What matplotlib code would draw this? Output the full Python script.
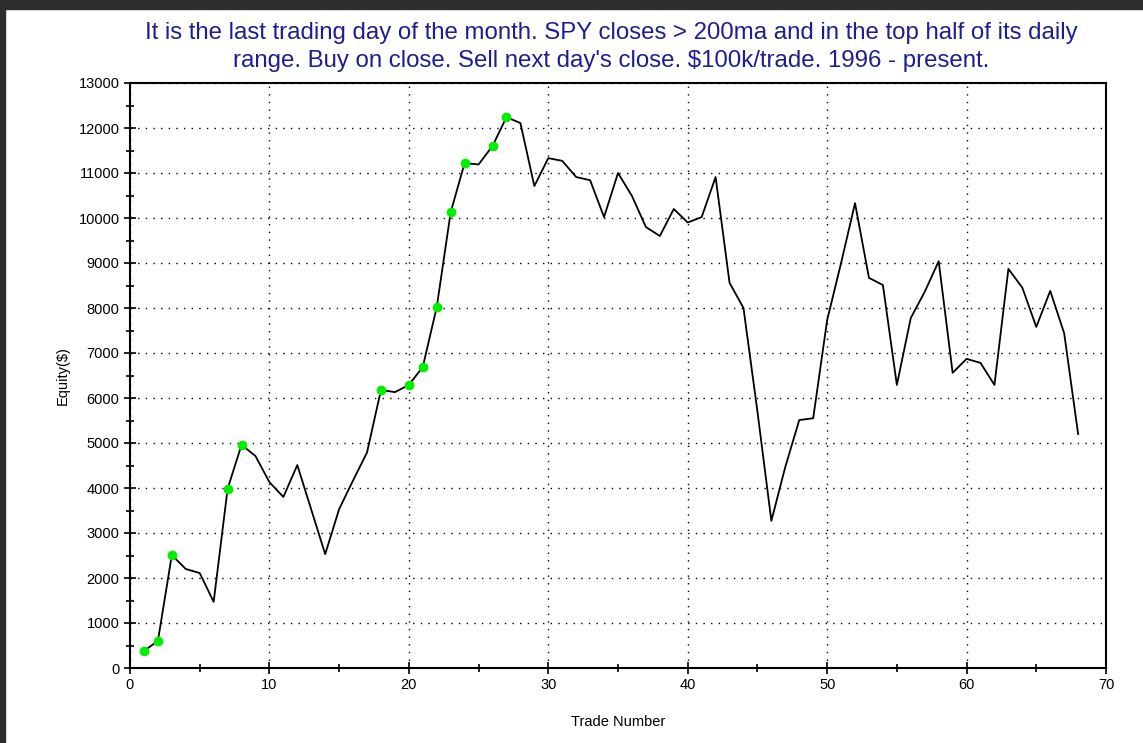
import numpy as np
import matplotlib.pyplot as plt
from matplotlib.ticker import MultipleLocator
from matplotlib.patches import Rectangle

# equity curve (trade 1..68)
trades = list(range(1, 69))
equity = [380, 600, 2510, 2200, 2110, 1470, 3980, 4960, 4710, 4130,
          3800, 4510, 3520, 2530, 3530, 4170, 4790, 6180, 6130, 6290,
          6690, 8020, 10130, 11220, 11190, 11600, 12240, 12110, 10710, 11330,
          11270, 10910, 10840, 10020, 11000, 10490, 9800, 9600, 10200, 9900,
          10020, 10910, 8560, 8000, 5700, 3270, 4470, 5510, 5550, 7730,
          9000, 10330, 8670, 8510, 6290, 7780, 8360, 9040, 6560, 6870,
          6780, 6290, 8870, 8450, 7580, 8380, 7440, 5200]
# trades that made a new equity high (green dots)
high_trades = [1, 2, 3, 7, 8, 18, 20, 21, 22, 23, 24, 26, 27]

title = ("It is the last trading day of the month. SPY closes > 200ma and in the top half of its daily\n"
         "range. Buy on close. Sell next day's close. $100k/trade. 1996 - present.")

plt.rcParams['font.family'] = ['Liberation Sans', 'DejaVu Sans']

fig = plt.figure(figsize=(11.43, 7.43), dpi=100)
fig.patch.set_facecolor('white')
# dark window border on top and left
fig.add_artist(Rectangle((0, 1 - 9 / 743), 1, 9 / 743, transform=fig.transFigure,
                         color='#2e2e2e', zorder=10))
fig.add_artist(Rectangle((0, 0), 5 / 1143, 1, transform=fig.transFigure,
                         color='#2e2e2e', zorder=10))

ax = fig.add_axes([130 / 1143, 1 - 668 / 743, (1106 - 130) / 1143, (668 - 83) / 743])

ax.plot(trades, equity, color='black', lw=1.3, zorder=3)
hx = [t for t in high_trades]
hy = [equity[t - 1] for t in high_trades]
ax.plot(hx, hy, 'o', color='#00ee00', ms=6, mec='#00ee00', zorder=4)

ax.set_xlim(0, 70)
ax.set_ylim(0, 13000)
ax.xaxis.set_major_locator(MultipleLocator(10))
ax.xaxis.set_minor_locator(MultipleLocator(5))
ax.yaxis.set_major_locator(MultipleLocator(1000))
ax.yaxis.set_minor_locator(MultipleLocator(500))
ax.tick_params(which='both', direction='inout', length=8, width=1.2, labelsize=10.5)
ax.tick_params(which='minor', length=6)
ax.grid(True, which='major', linestyle=(0, (1, 4.5)), color='black', lw=1)
for s in ax.spines.values():
    s.set_linewidth(1.5)

ax.set_xlabel('Trade Number', fontsize=10.5, labelpad=16)
ax.set_ylabel('Equity($)', fontsize=10.5, labelpad=6)
fig.text(0.535, 1 - 47 / 743, title, ha='center', va='center', fontsize=17.3,
         color='#1e1e90', linespacing=1.3)

fig.savefig('out.png', dpi=100)
